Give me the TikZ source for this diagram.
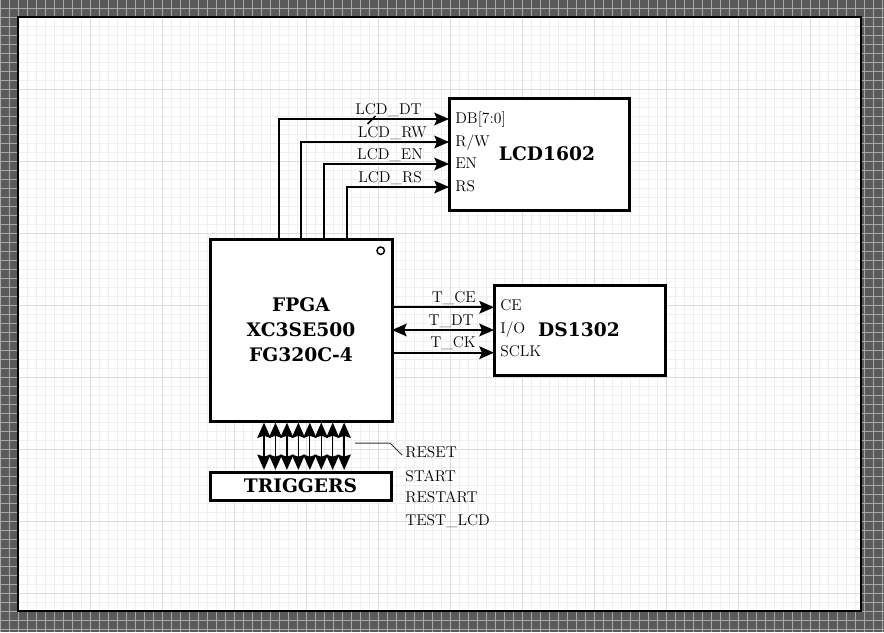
\documentclass[tikz,border=0pt]{standalone}
\usepackage{fontspec}
\newfontfamily\bfont{DejaVu Serif}
\usetikzlibrary{arrows.meta,calc}
\definecolor{outerbg}{HTML}{5A5A5A}
\definecolor{outergrid}{HTML}{A8A8A8}
\definecolor{minorgrid}{HTML}{EFEFEF}
\definecolor{majorgrid}{HTML}{DCDCDC}
\definecolor{leadcol}{HTML}{333333}
\begin{document}
\begin{tikzpicture}[x=0.75pt,y=-0.75pt,
  box/.style={draw=black,line width=2.25pt,fill=white,inner sep=0pt,outer sep=0pt},
  btxt/.style={font=\bfont\bfseries\fontsize{14}{18.75}\selectfont,inner sep=0pt},
  lbl/.style={font=\fontsize{11.7}{13}\selectfont,inner sep=0pt},
  tip/.style={-{Stealth[length=11pt,width=9.5pt,inset=2pt]}},
  sig/.style={line width=1.5pt,line cap=butt},
  tsig/.style={line width=1pt,{Stealth[length=11.5pt,width=10pt,inset=1.6pt]}-{Stealth[length=11.5pt,width=10pt,inset=1.6pt]},shorten <=1.2pt,shorten >=1.6pt},
  leader/.style={draw=leadcol,line width=0.75pt}]
\useasboundingbox (0,0) rectangle (884,632);
% outer background
\fill[outerbg] (0,0) rectangle (884,632);
\foreach \x in {0,9,...,882} \draw[outergrid,line width=0.75pt] (\x,0) -- (\x,632);
\foreach \y in {8,17,...,629} \draw[outergrid,line width=0.75pt] (0,\y) -- (884,\y);
% page
\fill[white] (18,17) rectangle (861,611);
\begin{scope}
\clip (18,17) rectangle (861,611);
\foreach \x in {27,36,...,855} \draw[minorgrid,line width=0.75pt] (\x,17) -- (\x,611);
\foreach \y in {26,35,...,602} \draw[minorgrid,line width=0.75pt] (18,\y) -- (861,\y);
\foreach \x in {90,162,...,810} \draw[majorgrid,line width=0.75pt] (\x,17) -- (\x,611);
\foreach \y in {89,161,...,593} \draw[majorgrid,line width=0.75pt] (18,\y) -- (861,\y);
\end{scope}
\draw[black,line width=1.3pt] (18,17) rectangle (861,611);

% boxes
\node[box,minimum width=135pt,minimum height=84pt] (lcd) at (539,154) {};
\node[btxt] (lcdt) at (547,154) {LCD1602};
\node[box,minimum width=136.5pt,minimum height=136.5pt] (fpga) at (301,330) {};
\node[btxt,align=center] (fpgat) at (301,329.5) {FPGA\\XC3SE500\\FG320C-4};
\node[box,minimum width=128.25pt,minimum height=67.5pt] (ds) at (579.5,330) {};
\node[btxt] (dst) at (579,330) {DS1302};
\node[box,minimum width=135.75pt,minimum height=21pt,btxt] (trig) at (300.5,486) {TRIGGERS};
\draw[line width=1.1pt] ($(fpga.north east)+(-11.3,11.7)$) circle[radius=2.8pt];

% LCD pins
\coordinate (lp1) at ($(lcd.north west)+(0,21)$);
\coordinate (lp2) at ($(lcd.north west)+(0,44)$);
\coordinate (lp3) at ($(lcd.north west)+(0,66)$);
\coordinate (lp4) at ($(lcd.north west)+(0,89)$);
\node[lbl,anchor=base west] (pdb) at ($(lp1)+(6,4)$) {DB[7:0]};
\node[lbl,anchor=base west] (prw) at ($(lp2)+(6,4)$) {R/W};
\node[lbl,anchor=base west] (pen) at ($(lp3)+(6,4)$) {EN};
\node[lbl,anchor=base west] (prs) at ($(lp4)+(6,4)$) {RS};
\draw[sig,tip] ($(fpga.north west)+(69,0)$) |- (lp1);
\draw[sig,tip] ($(fpga.north west)+(91,0)$) |- (lp2);
\draw[sig,tip] ($(fpga.north west)+(114,0)$) |- (lp3);
\draw[sig,tip] ($(fpga.north west)+(137,0)$) |- (lp4);
\node[lbl,anchor=base east] (ndt) at ($(lp1)+(-27,-4.5)$) {LCD\_DT};
\node[lbl,anchor=base east] (nrw) at ($(lp2)+(-22,-4.5)$) {LCD\_RW};
\node[lbl,anchor=base east] (nen) at ($(lp3)+(-26,-4.5)$) {LCD\_EN};
\node[lbl,anchor=base east] (nrs) at ($(lp4)+(-27,-4.5)$) {LCD\_RS};
\draw[line width=1.1pt] (367.5,124) -- (375.5,116);

% DS1302 pins
\coordinate (dp1) at ($(ds.north west)+(0,22.3)$);
\coordinate (dp2) at ($(ds.north west)+(0,45)$);
\coordinate (dp3) at ($(ds.north west)+(0,67.7)$);
\node[lbl,anchor=base west] (pce) at ($(dp1)+(6,3.5)$) {CE};
\node[lbl,anchor=base west] (pio) at ($(dp2)+(6,3.5)$) {I/O};
\node[lbl,anchor=base west] (psc) at ($(dp3)+(6,3.5)$) {SCLK};
\draw[sig,tip] (fpga.east |- dp1) -- (dp1);
\draw[sig,{Stealth[length=11pt,width=9.5pt,inset=2pt]}-{Stealth[length=11pt,width=9.5pt,inset=2pt]}] (fpga.east |- dp2) -- (dp2);
\draw[sig,tip] (fpga.east |- dp3) -- (dp3);
\node[lbl,anchor=base east] (nce) at ($(dp1)+(-18,-5)$) {T\_CE};
\node[lbl,anchor=base east] (ndt2) at ($(dp2)+(-20,-5)$) {T\_DT};
\node[lbl,anchor=base east] (nck) at ($(dp3)+(-18,-5)$) {T\_CK};

% triggers
\foreach \i in {0,...,7}
  \draw[tsig] ($(fpga.south west)+({54+11.45*\i},0)$) -- ($(trig.north west)+({54+11.45*\i},0)$);
\node[lbl,anchor=base west] (treset) at (405,457.7) {RESET};
\node[lbl,anchor=base west] (tstart) at (405,481) {START};
\node[lbl,anchor=base west] (trestart) at (405,502.5) {RESTART};
\node[lbl,anchor=base west] (ttest) at (405,525.7) {TEST\_LCD};
\coordinate (ldr) at ($(trig.north west)+(145,-29)$);
\draw[leader] (ldr) -- ++(35,0) -- ++(12,12);
\end{tikzpicture}
\end{document}
